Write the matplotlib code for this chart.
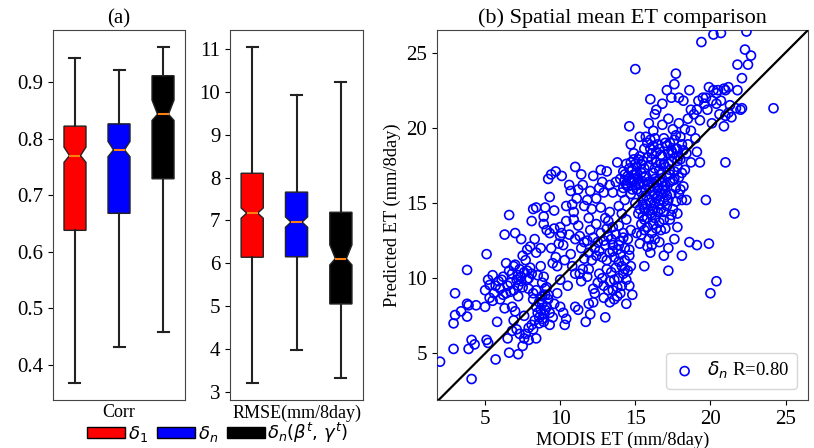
import matplotlib

matplotlib.use("Agg")
import matplotlib.pyplot as plt
from matplotlib.patches import Patch
from matplotlib.ticker import MultipleLocator

plt.rcParams["font.family"] = ["Liberation Serif", "DejaVu Serif"]
plt.rcParams["font.size"] = 14
plt.rcParams["xtick.labelsize"] = 15
plt.rcParams["ytick.labelsize"] = 15

# box statistics: delta_1, delta_n, delta_n(beta, gamma)
series_labels = ["$\\delta_1$", "$\\delta_n$", "$\\delta_n(\\beta^t,\\,\\gamma^t)$"]
box_colors = ["red", "blue", "black"]

corr_med = [0.770, 0.780, 0.843]
corr_q1 = [0.638, 0.668, 0.729]
corr_q3 = [0.822, 0.826, 0.911]
corr_lo = [0.368, 0.432, 0.458]
corr_hi = [0.942, 0.921, 0.962]
corr_cilo = [0.758, 0.768, 0.832]
corr_cihi = [0.785, 0.795, 0.868]

rmse_med = [7.17, 6.96, 6.11]
rmse_q1 = [6.14, 6.15, 5.05]
rmse_q3 = [8.10, 7.66, 7.19]
rmse_lo = [3.20, 3.97, 3.33]
rmse_hi = [11.05, 9.92, 10.23]
rmse_cilo = [7.05, 6.84, 5.96]
rmse_cihi = [7.29, 7.08, 6.43]

# panel (b): spatial mean ET, MODIS vs predicted (mm/8day)
modis_et = [
    2.0, 4.1, 2.9, 3.9, 4.1, 4.3, 5.1, 5.2, 5.7, 6.6, 7.2, 2.9, 3.0, 3.4, 3.8, 3.8, 3.9,
    4.4, 3.0, 3.8, 5.1, 5.0, 5.2, 5.3, 5.6, 5.9, 6.0, 6.2, 6.4, 5.0, 5.3, 5.5, 5.7,
    6.7, 6.8, 7.0, 7.1, 7.3, 7.4, 7.7, 7.8, 8.0, 8.1, 5.8, 6.3, 6.8, 7.0, 7.1, 7.3,
    6.3, 6.6, 7.0, 7.4, 7.8, 8.0, 8.1, 8.2, 8.4, 8.3, 8.4, 6.5, 6.8, 7.5, 7.6, 7.9,
    6.9, 7.6, 7.2, 7.5, 7.9, 6.6, 7.6, 7.2, 6.9, 6.1, 6.5, 7.9, 8.2, 7.4, 6.4, 6.2,
    8.9, 8.9, 9.0, 8.7, 8.7, 8.9, 9.1, 8.4, 8.2, 8.8, 9.2, 8.7, 9.1, 8.6, 8.9, 9.3,
    8.2, 8.4, 7.9, 7.7, 8.1, 9.3, 9.3, 9.4, 9.7, 9.3, 9.2, 9.4, 9.7, 10.1, 10.0, 10.1,
    10.2, 10.3, 10.4, 9.8, 10.0, 9.8, 10.0, 10.2, 10.3, 10.4, 8.8, 9.0, 8.6, 8.9, 9.0,
    8.5, 9.5, 9.9, 9.6, 10.0, 8.8, 9.6, 9.5, 8.6,
    10.7, 10.6, 11.0, 10.9, 10.9, 11.0, 10.5, 11.0, 11.0, 11.2, 11.4, 11.5, 11.8, 11.6,
    11.9, 12.0, 11.4, 11.3, 11.9, 12.1, 11.3, 11.4, 11.8, 11.9, 12.0, 12.2, 12.3, 12.2,
    12.2, 11.7, 10.8, 11.6, 11.2, 12.3, 12.4, 11.5, 10.7, 12.1, 11.1, 12.0, 11.8,
    12.7, 12.8, 12.9, 13.1, 13.3, 12.7, 13.0, 12.7, 13.1, 13.4, 13.0, 13.3, 12.8, 12.9,
    13.0, 13.2, 13.3, 13.6, 13.7, 13.8, 13.8, 13.9, 13.8, 14.0, 14.2, 14.4, 14.7, 14.1,
    14.3, 13.9, 14.1, 14.4, 14.2, 14.7, 14.0, 14.3, 14.6, 14.0, 14.1, 14.2, 14.4, 14.8,
    14.4, 14.0, 14.7, 13.5, 13.6, 13.2, 12.9, 13.7, 13.5, 13.8, 13.4, 13.1, 12.8, 13.6,
    14.5, 14.5, 14.6, 14.3, 13.9, 13.3,
    14.6, 14.7, 15.0, 14.9, 15.1, 15.3, 15.6, 15.3, 15.8, 15.9, 16.2, 15.7, 14.5, 14.6,
    14.8, 14.9, 15.0, 15.2, 15.4, 15.5, 14.4, 15.0, 14.8, 15.4, 15.6, 14.3, 15.1,
    15.2, 15.4, 15.9, 15.0, 15.2, 15.6, 16.0, 15.8, 16.1, 15.1, 15.3, 15.8, 15.6, 16.0,
    16.3, 16.4, 15.6, 15.8, 16.0, 16.2, 16.4, 16.1, 16.5, 16.3, 16.7, 16.6, 16.9, 16.8,
    17.0, 17.2, 17.1, 16.6, 16.9, 17.3, 17.5, 17.4, 17.7, 17.8, 17.6, 17.2, 16.8, 16.4,
    16.1, 16.5, 16.9, 17.3, 17.8, 16.2, 15.7, 15.5, 16.6, 17.0, 15.9, 16.3, 17.5, 17.9,
    16.0, 15.9, 16.3, 16.7, 15.5, 15.3, 16.5, 17.6, 17.1, 15.9,
    16.6, 17.0, 17.5, 17.7, 18.1, 18.3, 18.4, 18.7, 19.0, 19.1, 18.7, 18.3, 18.2, 18.4,
    18.1, 17.8, 17.3, 17.8, 17.6, 17.2, 16.9, 17.2, 18.1, 18.6, 19.1, 19.9, 19.7, 19.3,
    16.8, 17.2, 17.9, 18.5, 16.3, 17.4, 18.0, 18.1, 17.9,
    16.4, 16.3, 16.8, 17.1, 17.4, 17.7, 17.6, 17.9, 18.2, 18.6, 18.7, 19.1, 19.2, 19.3,
    19.5, 19.4, 19.8, 20.1, 19.9, 20.2, 20.5, 20.7, 20.4, 20.1, 20.2, 20.7, 21.0, 21.2,
    20.9, 21.0, 21.2, 21.4, 21.7, 21.8, 22.0, 22.1, 21.8, 22.1, 22.3, 22.4, 22.5, 22.7,
    24.2, 21.0, 21.6, 20.0, 20.4, 16.0, 19.7, 20.4, 20.6, 21.3, 20.9, 18.9, 19.6,
    # denser parts of the cloud
    14.3, 14.5, 14.7, 14.9, 15.1, 15.2, 14.6, 14.8, 15.3, 15.0, 14.4, 15.5, 14.7, 14.2,
    15.6, 14.9, 15.8, 16.1, 15.7, 16.0,
    15.5, 15.7, 15.9, 16.1, 16.3, 16.5, 16.7, 16.9, 17.1, 16.8, 16.4, 16.2, 16.6, 17.0,
    17.3, 17.6, 17.8, 17.4, 17.0, 16.7, 16.4, 16.2, 16.7, 17.1, 17.6, 18.0, 17.9, 17.5,
    18.2, 18.5, 15.4, 15.6, 16.2, 16.7, 16.9, 17.4, 17.7, 18.0, 17.3, 16.0, 15.8, 16.9,
    16.3, 15.7, 16.6, 17.2, 17.7, 15.4, 16.6, 16.1,
    11.6, 12.5, 12.6, 13.1, 13.5, 13.9, 14.2, 13.2, 12.4, 12.2, 11.9, 12.6, 13.3, 13.5,
    14.1, 14.3, 14.6, 13.9, 12.9, 12.5, 10.6, 10.4, 9.6, 9.1, 10.8, 11.2, 12.4, 12.6,
    13.5, 13.7,
    8.4, 8.7, 9.0, 8.5, 8.8, 9.2, 8.3, 7.2, 6.7, 6.0, 5.5, 6.9, 7.8, 7.5,
]
predicted_et = [
    4.45, 3.3, 5.3, 5.3, 5.9, 5.6, 5.9, 5.7, 4.6, 5.05, 4.95, 7.0, 7.55, 7.8, 7.45, 8.3, 8.2,
    8.2, 9.0, 10.55, 11.6, 9.2, 9.9, 9.55, 9.0, 9.8, 9.3, 10.1, 9.0, 8.1, 8.7, 10.2, 9.5,
    9.7, 10.3, 10.9, 9.9, 10.6, 10.1, 11.2, 9.9, 10.7, 10.3, 7.1, 8.0, 8.1, 7.8, 6.6, 6.3,
    12.9, 14.2, 13.0, 12.6, 11.9, 12.1, 13.8, 14.6, 14.7, 12.6, 11.7, 6.0, 6.5, 5.5, 6.0, 6.7,
    7.2, 7.5, 8.8, 9.4, 9.3, 10.5, 10.4, 10.2, 9.2, 9.9, 9.5, 10.0, 9.0, 9.8, 11.0, 8.9,
    14.1, 13.6, 14.7, 12.0, 10.8, 10.1, 9.4, 9.2, 8.6, 8.8, 8.6, 7.9, 8.1, 7.4, 7.1, 7.7,
    6.6, 6.0, 5.9, 6.3, 6.9, 6.9, 13.0, 12.0, 11.4, 15.4, 16.6, 16.9, 17.1, 16.8, 13.4, 13.0,
    12.2, 11.2, 14.8, 10.8, 9.9, 9.0, 8.1, 7.7, 6.9, 7.3, 8.3, 8.9, 8.4, 7.6, 9.3,
    10.2, 11.0, 12.3, 13.3, 12.8, 9.7, 8.3, 7.4, 7.0,
    15.8, 16.2, 17.4, 14.4, 13.9, 12.6, 9.5, 10.3, 8.1, 7.9, 16.9, 16.2, 15.2, 14.8,
    14.0, 13.2, 12.0, 12.8, 11.7, 11.2, 10.3, 9.8, 10.1, 8.3, 7.6, 8.4, 9.0, 9.3,
    16.8, 7.1, 10.8, 11.3, 13.5, 12.0, 11.5, 10.6, 11.6, 14.6, 15.3, 15.8, 12.5,
    17.2, 16.4, 15.7, 17.1, 16.2, 14.7, 14.0, 13.0, 13.3, 12.6, 12.2, 11.7, 11.4, 9.5,
    7.4, 9.2, 8.4, 9.9, 10.7, 9.4, 8.8, 10.0, 17.7, 16.6, 17.1, 16.2, 16.5, 15.7,
    15.2, 14.8, 14.3, 13.9, 13.0, 13.2, 12.5, 12.0, 11.5, 11.6, 10.8, 10.3, 9.9, 8.9,
    8.3, 9.0, 10.8, 12.2, 11.4, 12.8, 12.5, 12.9, 13.4, 11.9, 10.4, 10.6, 10.0, 8.6,
    12.6, 10.5, 9.5, 11.2, 13.5, 14.4,
    20.1, 18.9, 23.9, 17.9, 17.4, 18.1, 18.6, 19.4, 19.0, 20.3, 19.8, 16.8, 16.8, 17.3,
    16.4, 16.9, 16.2, 16.6, 17.0, 16.4, 17.6, 17.6, 15.9, 17.6, 17.3, 16.5, 15.9,
    16.2, 15.7, 15.2, 15.0, 14.3, 13.9, 14.3, 13.4, 13.0, 13.0, 12.3, 12.1, 10.8, 11.7,
    12.6, 13.3, 14.6, 14.0, 15.0, 14.6, 15.3, 15.8, 16.0, 16.6, 15.6, 14.9, 14.4, 16.4,
    15.8, 15.2, 16.8, 17.2, 17.6, 17.2, 16.5, 15.6, 16.0, 17.4, 18.0, 18.3, 18.1, 18.4,
    17.9, 18.9, 19.3, 19.0, 18.6, 16.3, 15.5, 14.9, 13.7, 13.3, 12.6, 14.0, 14.6, 15.6,
    18.6, 17.5, 17.3, 16.9, 15.3, 14.6, 14.4, 17.1, 14.8, 16.4,
    18.6, 19.0, 19.9, 19.5, 18.9, 19.9, 18.3, 19.8, 19.3, 18.4, 17.7, 17.2, 16.1, 15.2,
    15.2, 14.3, 13.9, 13.4, 12.6, 12.0, 11.5, 10.5, 11.5, 12.4, 12.2, 12.3, 15.2, 17.7,
    20.2, 20.6, 20.3, 20.6, 19.3, 18.5, 17.9, 17.0, 16.7,
    21.2, 20.9, 21.6, 22.5, 22.0, 23.6, 22.9, 22.0, 21.8, 22.5, 21.2, 21.2, 21.8, 20.5,
    22.0, 25.7, 21.2, 21.8, 22.7, 22.5, 22.5, 21.8, 21.6, 20.3, 26.2, 26.3, 22.5, 22.7,
    20.1, 20.8, 21.0, 20.7, 21.3, 22.5, 21.2, 21.3, 24.2, 23.3, 25.2, 26.4, 24.2, 24.8,
    21.3, 17.7, 14.3, 9.0, 9.8, 21.9, 22.0, 22.3, 20.9, 21.5, 22.6, 20.9, 21.6,
    # denser parts of the cloud
    16.9, 16.1, 17.7, 16.6, 17.0, 17.9, 16.6, 17.2, 16.3, 16.9, 16.3, 17.8, 15.6, 16.0,
    16.7, 18.3, 18.0, 18.3, 19.4, 19.2,
    14.1, 14.9, 14.5, 14.2, 15.0, 15.5, 14.6, 15.1, 15.5, 15.9, 16.4, 17.0, 16.5, 16.2,
    16.4, 16.6, 17.8, 17.8, 17.4, 17.6, 17.7, 18.8, 18.2, 18.8, 19.2, 19.4, 18.1, 18.3,
    18.5, 18.9, 13.6, 13.2, 13.6, 13.2, 13.9, 14.2, 15.1, 15.9, 16.9, 16.0, 16.2, 16.1,
    15.6, 15.9, 15.2, 17.6, 18.6, 12.9, 12.4, 12.2,
    12.4, 12.4, 11.8, 11.2, 11.8, 12.2, 12.7, 13.8, 13.6, 12.7, 10.6, 10.3, 9.8, 9.2,
    9.5, 10.6, 11.9, 11.1, 8.7, 9.7, 12.9, 13.8, 14.5, 13.2, 14.9, 15.9, 15.3, 16.0,
    15.7, 16.4,
    8.1, 8.6, 7.9, 7.7, 7.3, 8.9, 7.2, 9.5, 9.1, 8.6, 8.5, 10.8, 10.5, 11.5,
]
scatter_label = "$\\delta_n$ R=0.80"


def box_stats(med, q1, q3, lo, hi, cilo, cihi):
    """Build the stats dicts that ax.bxp wants from the read-off values."""
    stats = []
    for i in range(len(med)):
        stats.append(
            {
                "med": med[i],
                "q1": q1[i],
                "q3": q3[i],
                "whislo": lo[i],
                "whishi": hi[i],
                "cilo": cilo[i],
                "cihi": cihi[i],
                "fliers": [],
            }
        )
    return stats


def draw_boxes(ax, stats):
    line = {"color": "#222222", "linewidth": 1.5}
    parts = ax.bxp(
        stats,
        widths=0.5,
        shownotches=True,
        patch_artist=True,
        showfliers=False,
        whiskerprops=line,
        capprops=line,
        boxprops={"edgecolor": "#222222", "linewidth": 1.0},
        medianprops={"color": "#ff7f0e", "linewidth": 1.5},
    )
    for patch, color in zip(parts["boxes"], box_colors):
        patch.set_facecolor(color)
    ax.set_xlim(0.5, 3.5)
    ax.set_xticks([])


fig = plt.figure(figsize=(8.14, 4.48), dpi=100)

ax_corr = fig.add_axes([0.0651, 0.107, 0.1622, 0.826])
draw_boxes(ax_corr, box_stats(corr_med, corr_q1, corr_q3, corr_lo, corr_hi, corr_cilo, corr_cihi))
ax_corr.yaxis.set_major_locator(MultipleLocator(0.1))
ax_corr.set_xlabel("Corr", fontsize=13, labelpad=3)
ax_corr.set_title("(a)", fontsize=15, pad=5)

ax_rmse = fig.add_axes([0.2826, 0.107, 0.1634, 0.826])
draw_boxes(ax_rmse, box_stats(rmse_med, rmse_q1, rmse_q3, rmse_lo, rmse_hi, rmse_cilo, rmse_cihi))
ax_rmse.yaxis.set_major_locator(MultipleLocator(1))
ax_rmse.set_xlabel("RMSE(mm/8day)", fontsize=13, labelpad=3)

handles = [Patch(facecolor=c, edgecolor="black") for c in box_colors]
fig.legend(
    handles,
    series_labels,
    loc="center",
    bbox_to_anchor=(0.268, 0.034),
    ncol=3,
    frameon=False,
    handlelength=2.1,
    handleheight=0.55,
    handletextpad=0.15,
    columnspacing=0.5,
    borderpad=0,
    fontsize=13,
)

ax_sc = fig.add_axes([0.5369, 0.107, 0.4558, 0.826])
ax_sc.scatter(
    modis_et, predicted_et, s=42, facecolors="none", edgecolors="blue",
    linewidths=1.2, label=scatter_label, zorder=3,
)
ax_sc.set_xlim(1.8, 26.5)
ax_sc.set_ylim(1.9, 26.5)
ax_sc.plot([1.8, 26.5], [1.8, 26.5], color="black", linewidth=1.6, zorder=4)
ax_sc.xaxis.set_major_locator(MultipleLocator(5))
ax_sc.yaxis.set_major_locator(MultipleLocator(5))
ax_sc.set_xlabel("MODIS ET (mm/8day)", fontsize=13.3, labelpad=2)
ax_sc.set_ylabel("Predicted ET (mm/8day)", fontsize=13.3)
ax_sc.set_title("(b) Spatial mean ET comparison", fontsize=16, pad=5)
ax_sc.legend(loc="lower right", fontsize=13.5, handlelength=1.2,
             handletextpad=0.6, borderaxespad=0.6)

for ax in (ax_corr, ax_rmse, ax_sc):
    for spine in ax.spines.values():
        spine.set_edgecolor("#444444")

fig.savefig("out.png", dpi=100)
